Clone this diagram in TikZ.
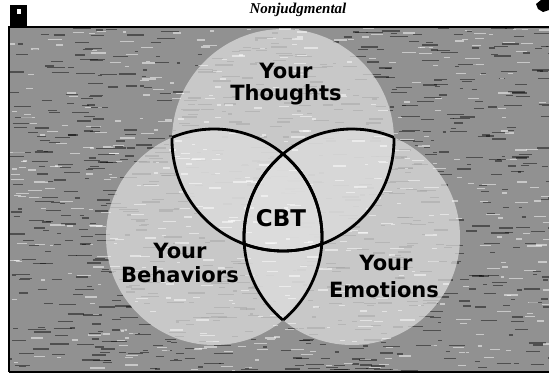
\documentclass[tikz,border=0pt]{standalone}
\usepackage{fontspec}
\newfontfamily\labfont{DejaVu Sans}
\newfontfamily\headfont{Liberation Serif}
\definecolor{bggray}{RGB}{145,145,145}
\definecolor{lightc}{RGB}{222,222,222}
\tikzset{
  lab/.style={font=\labfont\bfseries\fontsize{21}{22}\selectfont, inner sep=0pt, anchor=base},
  cbtlab/.style={font=\labfont\bfseries\fontsize{23}{24}\selectfont, inner sep=0pt, anchor=base},
  arcline/.style={line width=2.8pt, black},
  framel/.style={line width=2pt, black},
  streak/.style={line width=1.3pt, black, opacity=0.45},
  lstreak/.style={line width=1.3pt, white, opacity=0.5}
}
\begin{document}
\begin{tikzpicture}[x=1pt,y=-1pt]
\useasboundingbox (0,0) rectangle (549,375);
\clip (0,0) rectangle (549,375);
\coordinate (T) at (283,140);
\coordinate (B) at (214,237);
\coordinate (E) at (352,237);
% background panel
\fill[bggray] (8,27) rectangle (560,372);
\begin{scope}
  \clip (8,27) rectangle (560,372);
  \pgfmathsetseed{7}
  \foreach \i in {1,...,900}{
    \pgfmathsetmacro\xa{8+rnd*541}
    \pgfmathsetmacro\ya{27+rnd*345}
    \pgfmathsetmacro\ll{3+rnd*16}
    \draw[streak] (\xa,\ya) -- ++(\ll,0);
  }
  \fill[lightc, opacity=0.72] (T) circle (111pt);
  \fill[lightc, opacity=0.72] (B) circle (108pt);
  \fill[lightc, opacity=0.72] (E) circle (108pt);
  \foreach \i in {1,...,500}{
    \pgfmathsetmacro\xa{8+rnd*541}
    \pgfmathsetmacro\ya{27+rnd*345}
    \pgfmathsetmacro\ll{3+rnd*12}
    \draw[lstreak] (\xa,\ya) -- ++(\ll,0);
  }
\end{scope}
% frame
\draw[framel] (9,372) -- (9,27) -- (560,27);
\draw[framel] (9,372) -- (560,372);
\fill[black] (10,5) rectangle (27,27);
\fill[white] (17,9) rectangle (21,14);
\fill[black] (536,4) -- (541,0) -- (549,0) -- (549,10) -- (543,12) -- (538,9) -- cycle;
% header
\node[font=\headfont\bfseries\itshape\fontsize{15}{17}\selectfont, inner sep=0pt, anchor=base] (head) at (298,13) {Nonjudgmental};
% Venn arcs
\begin{scope}
  \clip (B) circle (108pt);
  \draw[arcline] (T) circle (111pt);
  \draw[arcline] (E) circle (108pt);
\end{scope}
\begin{scope}
  \clip (E) circle (108pt);
  \draw[arcline] (T) circle (111pt);
  \draw[arcline] (B) circle (108pt);
\end{scope}
\begin{scope}
  \clip (T) circle (111pt);
  \draw[arcline] (B) circle (108pt);
  \draw[arcline] (E) circle (108pt);
\end{scope}
% labels
\node[lab] (t1) at (286,78) {Your};
\node[lab] (t2) at (286,100) {Thoughts};
\node[cbtlab] (cbt) at (281,226) {CBT};
\node[lab] (b1) at (180,258) {Your};
\node[lab] (b2) at (180,282) {Behaviors};
\node[lab] (e1) at (386,270) {Your};
\node[lab] (e2) at (384,297) {Emotions};
\end{tikzpicture}
\end{document}
